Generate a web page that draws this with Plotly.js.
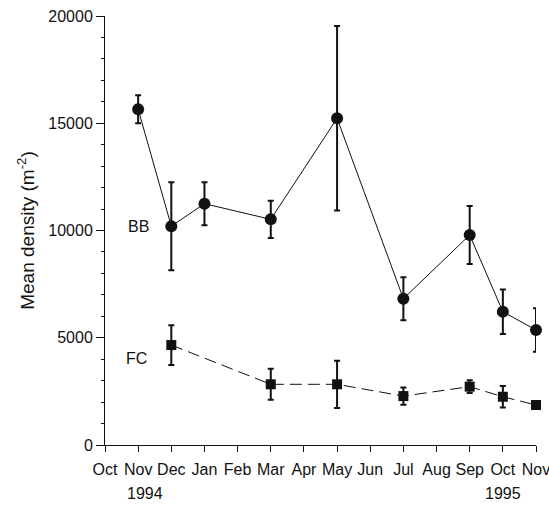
<!DOCTYPE html>
<html>
<head>
<meta charset="utf-8">
<script src="https://cdn.plot.ly/plotly-3.0.1.min.js"></script>
<style>html,body{margin:0;padding:0;background:#fff;}#chart{width:549px;height:506px;}</style>
</head>
<body>
<div id="chart"></div>
<script>
// Month positions (0 = Oct 1994 ... 13 = Nov 1995)
const monthLabels = ["Oct","Nov","Dec","Jan","Feb","Mar","Apr","May","Jun","Jul","Aug","Sep","Oct","Nov"];
const monthPos = [0,1,2,3,4,5,6,7,8,9,10,11,12,13];
const yTickVals = [0,5000,10000,15000,20000];
const yTickText = ["0","5000","10000","15000","20000"];

// BB series
const bbX = [1,2,3,5,7,9,11,12,13];
const bbY = [15650,10200,11250,10520,15230,6820,9790,6215,5360];
const bbErr = [650,2050,1000,870,4300,1000,1350,1040,1010];

// FC series
const fcX = [2,5,7,9,11,12,13];
const fcY = [4660,2830,2830,2280,2720,2250,1865];
const fcErr = [925,720,1100,400,300,500,0];

const ink = '#111';
const traces = [
  {
    x: bbX, y: bbY, type: 'scatter', mode: 'lines+markers',
    line: {color: ink, width: 1},
    marker: {symbol: 'circle', size: 12, color: ink},
    error_y: {type: 'data', array: bbErr, visible: true, color: ink, thickness: 2, width: 3},
    showlegend: false, cliponaxis: false
  },
  {
    x: fcX, y: fcY, type: 'scatter', mode: 'lines+markers',
    line: {color: ink, width: 1, dash: '12px,6px'},
    marker: {symbol: 'square', size: 10, color: ink},
    error_y: {type: 'data', array: fcErr, visible: true, color: ink, thickness: 2, width: 3},
    showlegend: false, cliponaxis: false
  }
];

const font = {family: 'Liberation Sans, Arial, sans-serif', color: ink};
const layout = {
  width: 549, height: 506,
  margin: {l: 105, r: 13, t: 16, b: 61},
  paper_bgcolor: '#fff', plot_bgcolor: '#fff',
  font: Object.assign({size: 16}, font),
  xaxis: {
    range: [0, 13], tickmode: 'array', tickvals: monthPos, ticktext: monthLabels,
    showline: true, linecolor: ink, linewidth: 1, ticks: 'outside', ticklen: 6, tickcolor: ink,
    showgrid: false, zeroline: false, tickfont: {size: 16}, ticklabelstandoff: 4,
    ticklabeloverflow: 'allow'
  },
  yaxis: {
    range: [0, 20000], tickmode: 'array', tickvals: yTickVals, ticktext: yTickText,
    showline: true, linecolor: ink, linewidth: 1, ticks: 'outside', ticklen: 8, tickcolor: ink,
    showgrid: false, zeroline: false, tickfont: {size: 16},
    minor: {tickmode: 'linear', dtick: 1000, ticks: 'outside', ticklen: 3, tickcolor: ink, showgrid: false},
    title: {text: 'Mean density (m<sup>-2</sup>)', font: {size: 19}, standoff: 8}
  },
  annotations: [
    {x: 1.2, y: 0, xref: 'x', yref: 'paper', yanchor: 'middle', yshift: -48, text: '1994', showarrow: false, font: {size: 16}},
    {x: 12, y: 0, xref: 'x', yref: 'paper', yanchor: 'middle', yshift: -48, text: '1995', showarrow: false, font: {size: 16}},
    {x: 1.0, y: 10200, xref: 'x', yref: 'y', text: 'BB', showarrow: false, font: {size: 16}},
    {x: 0.95, y: 4050, xref: 'x', yref: 'y', text: 'FC', showarrow: false, font: {size: 16}}
  ]
};

Plotly.newPlot('chart', traces, layout, {displayModeBar: false, staticPlot: true});
</script>
</body>
</html>
